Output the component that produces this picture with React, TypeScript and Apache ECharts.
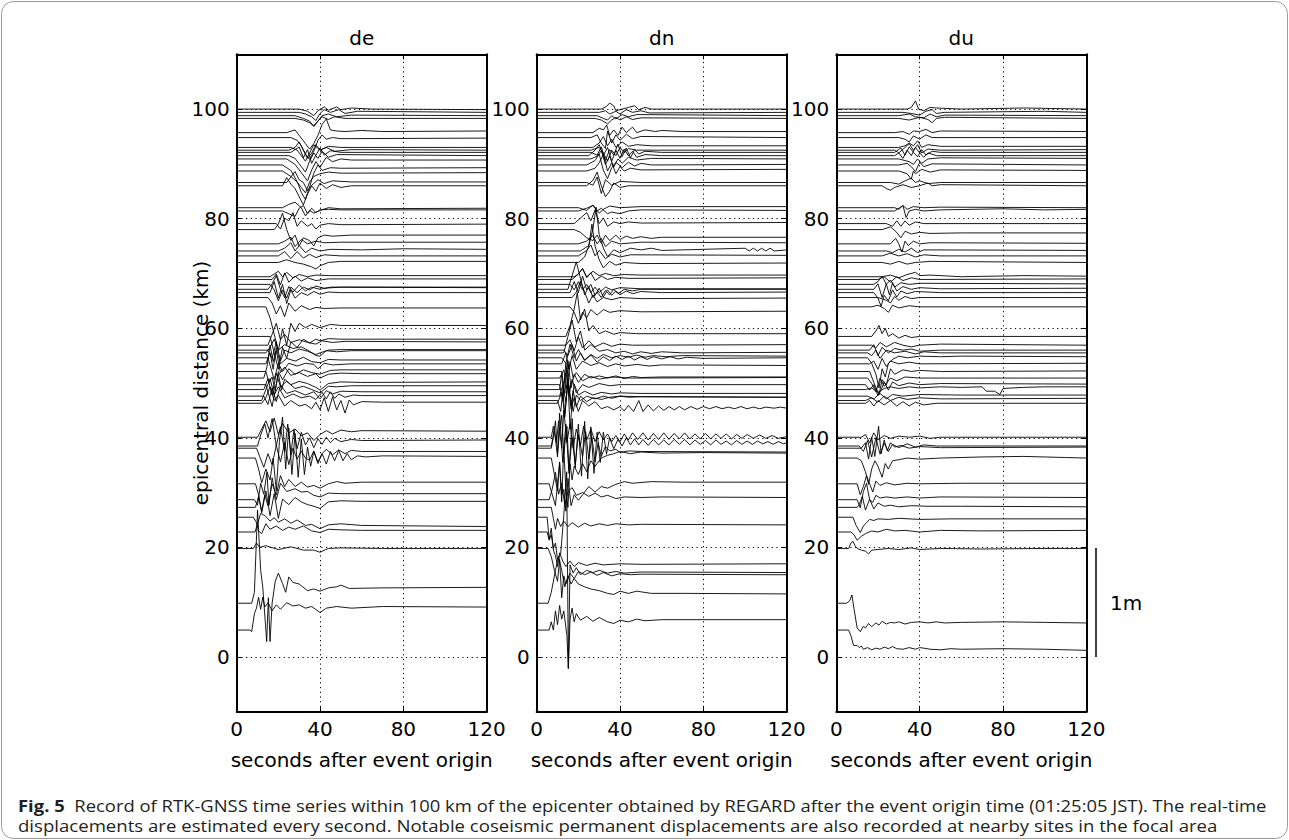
import React, { useEffect, useRef } from "react";
import * as echarts from "echarts";

const panelNames = ["de", "dn", "du"];
const xTicks = [0, 40, 80, 120];
const yTicks = [0, 20, 40, 60, 80, 100];
const gridLines = [0, 20, 40, 60, 80, 100];
const vGridLines = [40, 80];

// epicentral distance of every station (km)
const stations = [
  4.9, 9.8, 19.8, 22.8, 25.5, 27.3, 28.7, 31.6, 36.3, 38.1, 38.5, 40.1,
  46.3, 46.8, 47.6, 48.8, 49.7, 50.9, 52.1, 53.5, 54.6, 55.5, 56.0, 56.9, 58.5,
  63.9, 65.6, 66.5, 67.1, 68.0, 68.9, 69.4, 72.0, 73.2, 74.1, 75.4, 78.0, 79.1,
  81.4, 82.0, 86.0, 86.6, 88.7, 89.8, 90.9, 91.5, 92.1, 92.5, 93.0, 94.8, 95.7,
  98.3, 98.8, 99.4, 100.0,
];

// each trace: flat pairs [t (s), displacement in km-units (1 m = 20)]
const deTraces = [
  [0,0, 6.4,0, 7.2,-0.3, 8.5,3, 9.5,4, 10.5,6, 11.5,3.8, 12.5,6, 13.5,4.2, 15,5, 17,3.5, 19,4.6, 21,3.8, 24,5, 27,4.4, 30,4.6, 33,4, 36,4.3, 40,3.2, 43,4, 48,4.3, 55,4, 70,4.3, 120,4.2],
  [0,0, 7.2,0, 8.5,2, 10,17, 11.5,6, 12.5,3, 14.4,-7, 15.2,1, 16,-7, 17,0, 18.5,4, 20,5.5, 22,3.6, 23.5,2, 25,4.8, 27,3.8, 30,3.5, 34,2.3, 37,2.6, 40,2.2, 44,2.8, 48,3, 50,3.3, 54,2.7, 70,2.8, 120,2.9],
  [0,0, 8,0, 9.5,1, 11,0.2, 14,0.5, 20,-0.2, 26,0.3, 32,-0.3, 37,-0.3, 40,-0.7, 44,0, 50,0.1, 70,0, 120,0],
  [0,0, 8.8,0, 10,1.5, 11.5,3.4, 13.5,3.0, 16,2.0, 18,2.6, 20,1.8, 23,2.4, 26,1.6, 29,2.2, 33,1.2, 36,1.4, 40,0.6, 44,1.3, 50,1.5, 60,1.2, 120,1.0],
  [0,0, 8,0, 9.5,-1, 10.5,-2.5, 12,-3, 14,-1.2, 16,-2.2, 19,-1.6, 22,-2.4, 25,-1.8, 28,-2.2, 32,-1.6, 36,-2.5, 40,-2.8, 44,-2.2, 50,-2.3, 60,-2.4, 120,-2.4],
  [0,0, 9,0, 10.5,2, 12,-1, 14,3, 16,-1.5, 18,2.5, 20,-2, 22,1.5, 25,0.5, 28,1.8, 31,1, 34,0.5, 37,0.2, 40,-0.2, 44,1, 50,1.2, 60,1.1, 120,1.1],
  [0,0, 8.5,0, 10,-1, 11.5,3, 13,1, 14.5,5, 15.5,-1, 17,4, 19,0, 21,3, 24,1.5, 28,2, 31,1.4, 34,1.5, 37,0.8, 40,0.5, 44,1.2, 50,1.1, 60,1.1, 120,1.1],
  [0,0, 9,0, 10.5,-2, 12,-5, 13.5,-2, 15,-4, 17,0, 19,-2, 21,1.5, 23,-0.5, 25,0.8, 28,-0.5, 31,0.3, 34,-0.6, 37,-0.3, 40,-0.8, 44,0, 48,0.4, 52,0.1, 60,0.3, 120,0.3],
  [0,0, 9,0, 10.5,-2, 12,-4.5, 14,-2, 16,-4, 17.5,0, 19,-6, 20.5,3, 22,7.5, 23.5,-2, 25,5.5, 26.5,-3, 28,4.5, 29.5,-3.5, 31,3.5, 32.5,-3, 34,2, 35.5,-1.5, 37,1.2, 39,-1, 41,0.8, 43,-1.1, 45,1.2, 47,-0.5, 49,1.4, 51,-0.5, 53,0.8, 55,-0.3, 58,0.4, 62,0.2, 70,0.4, 120,0.3],
  [0,0, 9.5,0, 11,-1.5, 13,-3.5, 15,-1, 17,-3, 19,0.5, 21,-2.5, 23,1, 25,-3, 27,0, 29,-2, 31,-0.5, 33,-1.8, 35,-2.2, 37,-0.5, 39,-2.5, 41,-1, 43,-0.2, 46,-1.2, 49,-0.3, 52,-1, 55,-0.4, 60,-0.6, 120,-0.6],
  [0,0, 10,0, 11.5,2, 13.5,4, 15,1.5, 17,5, 19,0, 21,3.5, 23,-1, 24.5,4, 26,-1.5, 27.5,3, 29,-0.5, 31,2.5, 33,0.2, 35,1.5, 37,-0.3, 39,1.3, 41,0.3, 43,1.6, 45,0.6, 47,1.4, 50,0.8, 55,1.2, 60,1, 120,1.1],
  [0,0, 10,0, 12,1.5, 14,3, 16,1, 18,3.5, 20,0.5, 22,2.5, 25,0.8, 28,1.5, 31,0.3, 34,0.8, 37,-0.6, 40,0.5, 43,1.2, 46,0.6, 50,1.3, 55,1, 60,1.2, 120,1.1],
  [0,0, 12,0, 14,1, 16,3, 18,0.5, 20,1.5, 23,-0.5, 26,0.5, 30,-0.5, 33,-0.2, 36,-1, 38,0.2, 40,-1.2, 42,1, 44,-1.5, 46,1.2, 48,-1.2, 50,0.5, 52,-1.8, 54,0.6, 56,-0.3, 60,0.3, 70,0.2, 120,0.2],
  [0,0, 12,0, 14,2, 16,4, 18,1, 20,2.5, 23,0.5, 27,1.2, 31,0.5, 35,0.8, 38,0.2, 41,1.5, 43,0.3, 45,1.6, 47,0.4, 49,1.2, 52,0.6, 56,1, 60,0.9, 120,0.9],
  [0,0, 13,0, 15,-1.5, 17,1.5, 19,-1, 21,2, 24,0.5, 28,1, 33,0.2, 37,0.8, 40,-0.5, 43,1, 46,0.4, 50,0.9, 60,0.8, 120,0.8],
  [0,0, 13,0, 15,2, 17,-1, 19,3, 21,0.5, 24,1.5, 28,0.2, 32,0.6, 36,0, 40,-0.6, 44,0.6, 48,0.5, 55,0.7, 120,0.7],
  [0,0, 14,0, 15.5,-2, 17,-4, 18.5,-1, 20,2, 21.5,-1, 23,1, 26,0, 30,0.6, 34,0.2, 38,-0.5, 40,-1, 44,0.2, 50,0.5, 60,0.4, 120,0.5],
  [0,0, 13,0, 14.5,2, 16,6, 17.5,3, 19,5, 21,1, 23,2, 26,0.5, 30,1, 34,0.3, 38,0.8, 40,0, 44,0.7, 50,0.9, 60,0.8, 120,0.8],
  [0,0, 14,0, 15.5,-2, 17,-1, 18.5,-3.5, 20,0, 22,-1.5, 25,0.5, 28,-0.5, 32,0.3, 36,-0.2, 40,-0.5, 45,0.2, 50,0.3, 120,0.3],
  [0,0, 14,0, 16,2, 17.5,-1, 19,3, 21,0, 24,1, 28,0.5, 32,1.2, 36,0.4, 40,0.2, 44,0.8, 50,0.7, 120,0.7],
  [0,0, 15,0, 16.5,-2, 18,-4, 20,-1, 22,-2.5, 25,-1, 29,-1.5, 33,-1.0, 37,-1.2, 39,-2, 42,-1, 46,-1.3, 55,-1.1, 120,-1.1],
  [0,0, 14,0, 16,1, 18,2.5, 20,0.5, 23,1.5, 27,0.8, 31,1.1, 35,0.3, 38,-0.5, 40,-0.6, 43,0.4, 48,0.2, 55,0.4, 120,0.4],
  [0,0, 15,0, 17,-1.5, 19,1.5, 21,-2, 23,0, 26,-0.5, 30,0.2, 34,-0.2, 38,-0.8, 40,-0.5, 44,0, 50,0.1, 120,0.1],
  [0,0, 15,0, 17,2, 19,4, 21,1, 23,2, 26,0.5, 30,1, 34,0.5, 38,0.2, 41,0.8, 46,0.5, 52,0.7, 120,0.6],
  [0,0, 16,0, 18,-3, 20,-6, 22,-2, 24,-4, 26,-1, 29,-2, 32,-0.5, 35,-1.2, 38,-0.5, 40,-0.8, 44,-0.4, 50,-0.5, 120,-0.5],
  [0,0, 14,0, 16,-2, 18,-5, 20,-8, 22,-4, 24,-7, 26,-3, 28,-4.5, 30,-3, 33,-3.8, 36,-3.2, 40,-3.8, 45,-3.2, 50,-3.4, 120,-3.4],
  [0,0, 15,0, 17,-1, 19,-3, 21,-1.5, 23,-3.5, 25,-1, 28,-2.5, 31,-1.5, 35,-2.2, 38,-1.8, 42,-2, 50,-1.9, 120,-1.9],
  [0,0, 16,0, 18,2, 20,-1, 22,1.5, 24,-2, 26,0.5, 28,-1, 31,0, 34,-0.5, 37,0.2, 40,-0.3, 44,0.1, 50,0, 120,0],
  [0,0, 15,0, 17,1, 19,2.5, 21,0, 23,-1.5, 25,0.5, 27,-0.5, 30,0.8, 33,-0.3, 36,0.4, 40,0, 45,0.4, 120,0.3],
  [0,0, 16,0, 18,-1, 20,-3, 22,-1, 24,-2.5, 26,-0.5, 29,-1.5, 32,-0.5, 35,-1, 38,-0.3, 42,-0.7, 50,-0.5, 120,-0.5],
  [0,0, 17,0, 19,1, 21,-1, 23,1.2, 25,-0.5, 28,0.6, 31,-0.3, 34,0.3, 38,-0.2, 44,0.1, 120,0.1],
  [0,0, 16,0, 18,0.5, 20,1, 22,0, 24,0.8, 27,-0.2, 30,0.4, 34,0, 38,0.3, 45,0.2, 120,0.2],
  [0,0, 20,0, 24,0.5, 28,0, 32,-0.3, 36,-0.8, 38,-1.2, 40,-0.6, 44,0, 50,0.2, 120,0.2],
  [0,0, 20,0, 23,0.8, 26,-0.5, 29,0.8, 32,-0.4, 35,0.3, 38,-0.3, 42,0.2, 50,0, 120,0],
  [0,0, 20,0, 23,0.5, 26,1.5, 28,0, 30,1, 33,-0.3, 36,0.5, 40,0, 45,0.3, 60,0.2, 80,0.4, 120,0.3],
  [0,0, 20,0, 23,0.5, 26,1.2, 28,-0.5, 31,0.8, 34,0, 38,0.5, 42,0.2, 50,0.3, 120,0.3],
  [0,0, 18,0, 20,1, 22,3, 24,0, 26,-2, 28,-1, 30,-3, 32,-1.5, 35,-2, 37,-3, 39,-1.5, 42,-1, 46,-1.2, 55,-1, 120,-1],
  [0,0, 19,0, 21,-1, 23,1, 25,0.5, 27,2, 29,-0.5, 31,0.5, 34,-0.5, 36,0, 38,-1, 40,-0.3, 44,0, 50,-0.2, 120,-0.1],
  [0,0, 22,0, 25,-0.5, 28,-1, 30,0.5, 32,1, 34,-0.5, 36,0.5, 38,-0.3, 40,0.2, 44,0.3, 50,0.2, 120,0.2],
  [0,0, 22,0, 25,0.6, 28,1, 31,0, 33,-1.5, 35,-0.5, 37,-1, 40,-0.5, 44,0, 50,-0.2, 120,-0.1],
  [0,0, 22,0, 24,1.5, 26,0.3, 28,-0.5, 30,-2, 32,-3.5, 34,-1.5, 36,0, 38,-1, 40,0.5, 43,-0.5, 46,0.2, 50,-0.3, 55,0, 120,0],
  [0,0, 24,0, 26,1, 28,2, 30,0.5, 32,0, 34,-1.5, 36,-0.5, 39,0.5, 42,-0.2, 46,0.3, 55,0.1, 120,0.1],
  [0,0, 22,0, 26,-1, 29,-2, 31,-3, 33,-4, 35,-2, 37,-1, 40,-0.5, 44,-0.2, 50,-0.4, 120,-0.3],
  [0,0, 22,0, 26,-1, 29,-3, 31,-5, 33,-6.3, 35,-4, 37,-1.5, 39,0, 41,-1, 45,-0.5, 50,-0.6, 120,-0.5],
  [0,0, 24,0, 28,-1, 31,-2.5, 34,-4, 36,-2, 38,-0.5, 40,-1.5, 43,0.3, 46,-0.5, 50,0, 55,-0.2, 120,-0.2],
  [0,0, 25,0, 28,-0.5, 31,-2, 33,-3, 35,-1, 37,0.5, 39,-0.5, 41,0.8, 44,-0.3, 48,0.2, 120,0],
  [0,0, 26,0, 30,1, 32,-1, 34,0.5, 36,-2, 38,-0.5, 40,0.8, 42,-0.5, 45,0.3, 50,0, 120,0],
  [0,0, 25,0, 28,0.5, 30,1.5, 32,0, 34,-1.5, 36,-0.5, 38,1, 40,0, 43,0.5, 47,-0.2, 55,0.1, 120,0],
  [0,0, 26,0, 29,-0.5, 31,-1.5, 33,-2.5, 35,-1, 37,0.5, 40,-0.5, 44,0.2, 50,0, 120,0],
  [0,0, 26,0, 29,-0.5, 31,-1.5, 33,-3, 35,-4, 37,-2.5, 39,-0.5, 41,0.5, 43,-0.3, 46,0, 50,-0.2, 120,-0.1],
  [0,0, 24,0, 28,0.5, 30,-0.5, 33,-2, 35,-3, 37,-2, 39,-0.5, 41,1.5, 43,2.5, 45,0.5, 48,0.3, 52,0.2, 60,0.4, 70,0.2, 120,0.3],
  [0,0, 28,0, 32,-0.3, 35,-0.8, 37,-1.3, 39,-0.5, 41,0.3, 44,-0.2, 47,0.3, 52,0, 120,0],
  [0,0, 28,0, 32,-0.5, 35,-1, 37,-2, 39,-1, 41,0, 44,0.3, 48,-0.2, 55,0.1, 120,0],
  [0,0, 30,0, 33,-0.3, 36,-0.8, 38,-1.5, 40,-0.2, 42,0.5, 45,0, 49,0.5, 52,-0.2, 58,0.2, 120,0],
  [0,0, 30,0, 34,-0.4, 37,-1.2, 39,-0.3, 42,0.4, 44,-0.2, 48,0.4, 50,-0.1, 55,0.2, 65,0, 120,-0.1],
];

const dnTraces = [
  [0,0, 6,0, 7,1.5, 8,0, 9,3.5, 10,1, 11,4.5, 12,2, 13,3.5, 14.5,-1, 15.2,-7, 16,2, 17,4, 18,1.5, 19,3, 21,1.8, 24,2.5, 27,1.6, 30,2.3, 34,1.5, 37,1.2, 40,1.8, 44,1.5, 48,2, 52,1.7, 60,1.9, 120,1.9],
  [0,0, 5.5,0, 7,2, 9,6, 10.5,8.5, 12,6, 13.5,3, 15,5, 16.5,3.5, 18,4.5, 20,3.5, 23,3, 26,2.6, 30,2.3, 34,1.8, 37,1.6, 40,2.2, 44,1.8, 48,2.2, 55,1.8, 70,1.8, 120,1.7],
  [0,0, 5.5,0, 7,-1.5, 8.5,-4, 10,-6, 11,-2, 12,-9, 13,-5, 14,-6.5, 16,-4.5, 18,-5.5, 20,-4.2, 23,-4.8, 26,-4.3, 29,-4.9, 32,-4.4, 36,-5, 40,-4.6, 45,-4.8, 50,-4.7, 120,-4.8],
  [0,0, 5,0, 6,-1.5, 7,-0.5, 8,-3, 9,-2, 10,-5, 11.5,-4, 13,3, 14.4,11, 15.2,-24.9, 16,-6, 17.5,-7.5, 19,-6.5, 21,-7.8, 24,-7, 27,-7.4, 30,-7, 34,-7.5, 38,-7.2, 42,-7.5, 50,-7.3, 120,-7.4],
  [0,0, 5,0, 6,-4, 7,-2, 8,-6, 9,-7, 10,-9, 11,-6.5, 12.5,-8, 14,-9, 16,-8, 18,-9, 20,-8.3, 24,-8.8, 28,-8.4, 32,-8.7, 40,-8.5, 50,-8.6, 120,-8.5],
  [0,0, 7,0, 8,-2, 9,-4, 10,-2, 11.5,-3.5, 13,-2.5, 15,-3.5, 17,-2.8, 20,-3.6, 23,-2.9, 26,-3.4, 30,-3, 34,-3.3, 38,-3, 44,-3.2, 50,-3.1, 120,-3.2],
  [0,0, 6,0, 7.5,2, 9,5, 10.5,1, 12,3, 13.5,-1, 15,1.5, 17,2.2, 19,0.8, 22,1.3, 25,0.6, 28,1.2, 31,0.5, 34,0.8, 38,0.2, 42,0.5, 50,0.4, 60,0.5, 120,0.4],
  [0,0, 6,0, 7.5,-2, 9,-4, 10,0, 11,4, 12,-2, 13,-1, 14,-5, 15,1, 16.5,-4, 18,-2, 20,-3, 22,-2, 25,-0.5, 28,-1.5, 31,-0.5, 34,-0.8, 38,-0.1, 42,0.4, 46,0.1, 55,0.4, 70,0.3, 120,0.3],
  [0,0, 7,0, 8.5,-3, 10,-6, 11,-1, 12,-8, 13,2, 14,-6, 15,-9, 16,-1, 17,-4, 18,-1.5, 20,-3, 22,-1, 24,-2.5, 26,-0.5, 28,-1.5, 31,0, 34,0.5, 37,0.8, 40,1.2, 45,0.8, 50,1.1, 60,0.9, 80,1, 120,0.9],
  [0,0, 7,0, 8,2, 9,5, 10,-1, 11,3, 12,6, 13,-1, 14.5,4, 15.5,-4, 17,2, 18.5,-3, 20,2.5, 22,-1.5, 23.5,3, 25,-2, 26.5,2, 28,-2.5, 29.5,1, 31,-1.5, 33,0.3, 35,-0.5, 38,-0.2, 40,-0.8, 44,-0.5, 50,-0.6, 120,-0.7],
  [0,0, 7,0, 8.5,3, 10,-2, 11,6, 12.5,-3, 14,4, 15.5,-5, 17,5, 18.5,-4, 20,4, 21.5,-5.5, 23,4.5, 24.5,-6, 26,3.5, 27.5,-5, 29,2.5, 30.5,-3, 32,2.5, 33.5,-1.5, 35,1.5, 37,-0.5, 39,1.2, 41,0, 43,1.5, 45,0.2, 47,1.3, 49,0.2, 51,1.2, 53.5,0.1, 56,1.2, 58.5,0.2, 61,1.1, 63.5,0.2, 66,1.2, 68.5,0.3, 71,1.2, 73.5,0.2, 76,1.1, 78.5,0.3, 81,1.0, 83.5,0.2, 86,1.1, 88.5,0.3, 91,0.9, 93.5,0.2, 96,1.0, 98.5,0.3, 101,0.9, 103.5,0.3, 106,0.9, 108.5,0.4, 111,0.8, 113.5,0.3, 116,0.8, 118.5,0.4, 120,0.6],
  [0,0, 7,0, 8,2, 9.5,-1, 10.5,3, 12,-2, 13,5, 14.5,-1, 16,2.5, 17.5,-2, 19,1.5, 21,-1.5, 22.5,2, 24,-0.5, 26,1.5, 28,-0.8, 30,1, 32,-0.5, 34,0.6, 36,-0.8, 38,0.3, 40,-0.8, 42,0.6, 44,-0.5, 46,0.8, 48.5,-0.4, 51,0.8, 53.5,-0.5, 56,0.7, 58.5,-0.4, 61,0.8, 63.5,-0.4, 66,0.7, 68.5,-0.3, 71,0.8, 73.5,-0.3, 76,0.6, 78.5,-0.3, 81,0.7, 83.5,-0.3, 86,0.6, 88.5,-0.2, 91,0.6, 93.5,-0.3, 96,0.5, 98.5,-0.2, 101,0.5, 104,-0.2, 107,0.4, 110,-0.2, 113,0.3, 116,-0.2, 120,0.1],
  [0,0, 10,0, 12,2, 13.5,-2, 15,4, 16.5,-1, 18,1, 20,-1.5, 22,0.5, 25,-0.5, 28,0.3, 31,-1, 34,-0.6, 37,-1.2, 40,-0.6, 42,-1.4, 44,-0.4, 46.5,-1.5, 49,0.5, 51,-1.5, 53.5,-0.3, 56,-1.4, 58.5,-0.5, 61,-1.3, 63.5,-0.6, 66,-1.2, 68.5,-0.6, 71,-1.2, 74,-0.6, 77,-1.1, 80,-0.6, 83,-1.0, 86,-0.6, 89,-1.0, 92,-0.7, 95,-1.0, 98,-0.6, 101,-1.0, 104,-0.7, 107,-1.0, 110,-0.7, 114,-0.9, 117,-0.7, 120,-0.9],
  [0,0, 10,0, 11.5,-2, 13,3, 14.5,6, 16,1, 17.5,-2, 19,1, 21,0, 24,0.8, 28,0.3, 32,0.8, 36,0.4, 40,0.8, 44,0.6, 50,0.7, 120,0.6],
  [0,0, 11,0, 12.5,2, 14,-1, 15,3, 16,-6, 17.5,1, 19,-2, 21,0, 24,-1, 27,-0.3, 31,-0.6, 35,-0.2, 40,0, 50,-0.1, 120,-0.2],
  [0,0, 11,0, 12,3, 13.5,-5, 15,2, 16.5,-3, 18,1, 20,-1, 23,-0.3, 27,-1, 31,-0.5, 36,-0.8, 40,-0.6, 50,-0.7, 120,-0.7],
  [0,0, 11,0, 12.5,-3, 14,4, 15.5,-2, 17,1, 19,-1.5, 22,0, 25,-0.5, 30,0.2, 35,-0.2, 40,0, 120,0],
  [0,0, 11,0, 13,1.5, 14.5,-2, 16,3, 17.5,0, 19,1, 22,-0.5, 26,0.3, 30,-0.2, 36,0.2, 45,0, 120,0.1],
  [0,0, 12,0, 13.5,-4, 15,2, 16.5,-3, 18,-0.5, 20,-2, 23,-0.5, 26,-1.2, 30,-0.8, 34,-1.2, 38,-0.8, 42,-1.3, 46,-0.9, 50,-1.1, 60,-1, 120,-1],
  [0,0, 12,0, 14,2, 15.5,-1, 17,1.5, 19,-1, 22,0.5, 26,-0.3, 30,0.2, 34,-0.5, 38,0, 42,-0.4, 48,-0.1, 54,-0.4, 60,-0.2, 120,-0.3],
  [0,0, 12,0, 14,-1, 16,2.5, 18,0, 20,1.5, 23,-0.5, 26,0.5, 29,-0.8, 32,0.2, 35,-0.5, 38,0.3, 41,-0.3, 44,0.3, 47,-0.4, 50,0.2, 53,-0.3, 56,0.2, 60,-0.2, 64,0.2, 68,-0.2, 72,0.1, 80,-0.1, 120,0],
  [0,0, 13,0, 15,3, 17,6, 19,2, 21,4, 23,0.5, 26,1.5, 30,0.3, 34,0.6, 38,0, 42,0.3, 46,-0.2, 50,0.2, 55,-0.1, 60,0.2, 70,0, 120,0.1],
  [0,0, 13,0, 15,-1, 17,1, 19,-2, 21,-0.5, 23,-1.8, 26,-0.8, 29,-1.5, 32,-0.8, 36,-1.4, 40,-1, 44,-1.3, 48,-0.9, 52,-1.3, 56,-1, 62,-1.2, 70,-1, 120,-1.1],
  [0,0, 14,0, 16,1, 18,-1, 20,1.5, 22,-0.5, 25,0.8, 28,-0.3, 32,0.4, 36,-0.2, 40,0.2, 46,0, 120,0.1],
  [0,0, 14,0, 16,2, 18,5, 19.5,8, 21,3, 23,5, 25,1, 27,2, 30,0.5, 33,1, 37,0.4, 40,0.7, 48,0.5, 120,0.5],
  [0,0, 16,0, 18,-1, 20,-3, 22,-1, 24,-2, 26,-0.5, 29,-1.5, 32,-0.5, 35,-1, 40,-0.7, 50,-0.9, 120,-0.8],
  [0,0, 17,0, 19,1, 21,3, 23,1, 25,-1, 27,0.5, 29,-0.8, 32,0, 36,-0.4, 40,0, 50,-0.2, 120,-0.1],
  [0,0, 16,0, 18,2, 20,0, 22,3, 24,0.5, 26,1.5, 28,-0.5, 30,0.8, 32,-0.8, 34,0.5, 36,-0.5, 38,0.3, 40,-0.4, 43,0.3, 46,-0.2, 50,0.2, 60,0, 120,0.1],
  [0,0, 15,0, 17,2.5, 19,5, 21,2, 23,-1, 25,0.5, 27,-1.5, 29,-0.5, 31,-1.5, 33,-0.2, 35,-1, 37,0, 39,-0.8, 42,0, 46,-0.3, 50,0, 120,0],
  [0,0, 16,0, 18,-1, 20,0.5, 22,-1, 24,0, 26,-1.5, 28,-0.5, 30,-1.5, 33,-0.5, 36,-1, 40,-0.6, 50,-0.8, 120,-0.8],
  [0,0, 17,0, 20,1, 22,2, 24,0.3, 26,1.2, 28,-0.2, 31,0.6, 34,0, 38,0.4, 44,0.2, 120,0.3],
  [0,0, 18,0, 20,0.5, 22,1.5, 24,0, 27,1, 30,0.2, 33,0.6, 37,0.2, 42,0.4, 50,0.3, 120,0.3],
  [0,0, 20,0, 23,1, 25,3, 26.5,7, 28,3, 30,0.5, 32,-1, 35,0.2, 38,-0.5, 42,0, 50,-0.2, 120,-0.1],
  [0,0, 20,0, 24,1, 26,2, 28,0, 30,1, 33,-0.5, 36,0.3, 40,-0.2, 45,0.2, 120,0.1],
  [0,0, 21,0, 25,1, 27,4, 28.5,8, 30,3, 32,0.5, 34,-1, 37,0.2, 40,-0.3, 45,0.5, 50,0.2, 55,0.5, 60,0.1, 100,0.5, 102,0, 104,0.5, 106,0, 108,0.5, 110,0, 112,0.5, 114,0, 120,0.2],
  [0,0, 20,0, 24,0.5, 27,1.5, 29,0, 31,1, 33,-0.5, 36,0.5, 40,0, 50,0.3, 120,0.2],
  [0,0, 18,0, 21,-0.5, 24,-1.5, 27,-2, 29,-1, 31,-2.5, 33,-1, 35,-2, 38,-1, 40,-1.8, 43,-1.2, 46,-1.6, 50,-1.3, 55,-1.6, 60,-1.4, 120,-1.4],
  [0,0, 18,0, 21,1, 24,2, 26,0.5, 28,2.5, 30,0, 32,1, 34,-0.5, 37,0.3, 40,0, 44,0.3, 50,0.1, 120,0.2],
  [0,0, 20,0, 24,0.5, 27,1, 29,0, 31,0.5, 34,-0.5, 36,-0.2, 40,-0.5, 44,0, 50,0.2, 120,0.1],
  [0,0, 20,0, 24,-0.5, 27,0.5, 30,-1, 32,-0.3, 35,0.3, 40,0, 50,0.2, 120,0.2],
  [0,0, 24,0, 27,1, 29,2.5, 31,0, 33,-2, 35,-1, 37,0.5, 40,-0.3, 44,0, 120,0],
  [0,0, 24,0, 27,-0.5, 29,1, 31,-2, 33,0.5, 36,-0.5, 40,0.2, 50,0, 120,0],
  [0,0, 24,0, 28,0.5, 30,1.5, 32,3, 34,0, 36,1.5, 38,-0.5, 40,0.8, 42,0, 45,0.5, 50,0.2, 120,0.3],
  [0,0, 24,0, 28,0.8, 30,2, 32,-1, 34,-2.5, 36,-0.5, 38,0.5, 41,-0.5, 44,0.5, 47,-0.2, 50,0.3, 55,0, 120,0.1],
  [0,0, 26,0, 29,0.5, 31,1.5, 33,-1, 35,0.5, 37,-1.5, 39,0, 41,-0.8, 44,0.3, 48,-0.2, 55,0.1, 120,0],
  [0,0, 25,0, 28,1, 30,2, 32,0, 34,1.5, 36,-1, 38,1, 40,-0.5, 42,1.2, 44,0, 46,0.8, 48,-0.3, 52,0.2, 60,0, 120,0],
  [0,0, 26,0, 29,-0.5, 31,1, 33,-1.5, 35,0.5, 37,-0.5, 39,1.5, 41,-0.8, 43,0.8, 45,-1, 47,0.5, 49,-0.3, 52,0.2, 60,0, 120,0],
  [0,0, 26,0, 30,0.5, 32,-0.5, 34,-2, 36,0, 38,-1, 40,0.5, 42,-0.5, 44,0.3, 48,0, 120,0],
  [0,0, 27,0, 30,0.8, 32,2, 34,0.3, 36,1.5, 38,0, 41,1, 44,0.2, 48,0.5, 55,0.3, 120,0.3],
  [0,0, 26,0, 29,0.5, 31,-1, 33,-2, 34,1.2, 36,-1, 38,0.5, 40,-0.5, 43,0.6, 46,-0.2, 50,0.2, 120,0],
  [0,0, 27,0, 30,0.8, 32,0.5, 33.6,1.4, 35,-0.5, 37,0.5, 39,-0.5, 41,1, 43,0, 46,1, 48,0, 52,0.5, 57,0.2, 60,0.4, 70,0.2, 120,0.2],
  [0,0, 28,0, 31,-0.3, 34,-1, 36,-0.3, 38,0.2, 40,-0.3, 43,0.3, 46,-0.2, 50,0.1, 120,0],
  [0,0, 29,0, 32,-0.5, 34,-0.8, 36,0, 38,-0.6, 41,0.2, 44,-0.2, 48,0.2, 120,0],
  [0,0, 30,0, 33,0.3, 35,-0.3, 38,0.2, 40,-0.3, 43,0.5, 46,0, 50,0.3, 54,-0.1, 120,0],
  [0,0, 31,0, 33.6,0.5, 35,1.1, 37,0.6, 38,-0.3, 41,0, 44,0.3, 47,0.6, 49,-0.1, 52,0.3, 55,0, 120,0],
];

const duTraces = [
  [0,0, 5.9,0, 7,-1, 8.3,-2.8, 10,-2.8, 11,-3.2, 12,-2.9, 13,-3.5, 15,-3.2, 17,-3.6, 19,-3.3, 21,-3.5, 23,-3.1, 25,-3.4, 27,-3.0, 29,-3.4, 32,-3.5, 35,-3.2, 38,-3.5, 40,-3.2, 42,-3.3, 45,-3.5, 50,-3.6, 55,-3.4, 60,-3.5, 80,-3.4, 100,-3.5, 120,-3.7],
  [0,0, 5,0, 6.5,0.5, 7.5,1.5, 8.5,-1, 10,-4.5, 11.5,-5.2, 13,-4.2, 14,-4.5, 15.5,-3.7, 17,-4.3, 19,-3.6, 20.5,-4, 22,-3.3, 24,-3.8, 26,-3.5, 28,-3.6, 30,-3.4, 33,-3.8, 36,-3.5, 40,-3.4, 44,-3.6, 48,-3.4, 52,-3.6, 60,-3.5, 80,-3.4, 100,-3.5, 120,-3.6],
  [0,0, 6,0, 7,1, 8,1.3, 9,0.5, 10,0, 12,-0.3, 14,-0.5, 15.5,-1, 17,-0.3, 20,-0.2, 25,0, 30,-0.2, 36,0.1, 40,-0.2, 50,0, 70,-0.1, 100,0, 120,0],
  [0,0, 7,0, 8.5,-0.5, 10,-1.5, 12,-0.8, 14,-0.3, 17,0.2, 20,0, 24,0.5, 28,0.2, 33,0.3, 40,0, 50,0.3, 70,0.2, 120,0.3],
  [0,0, 8,0, 9.5,-1.5, 11.5,-2.8, 13,-1.6, 14.5,-1, 16,-0.4, 18,-0.6, 20,-0.3, 25,-0.4, 30,-0.2, 40,-0.4, 55,-0.3, 120,-0.3],
  [0,0, 10,0, 11,0.5, 12.5,2, 14,-0.5, 16,1.5, 18,-0.3, 20,0.8, 23,0.2, 26,0.4, 30,0.1, 36,0.3, 44,0.2, 60,0.2, 120,0.1],
  [0,0, 10,0, 11.5,-1.5, 13,1.5, 14.5,3, 16,0, 17.5,-0.5, 19,0.8, 21,0.3, 24,0.5, 28,0.3, 34,0.5, 40,0.3, 50,0.5, 120,0.4],
  [0,0, 10,0, 11.5,-2, 13,-0.5, 14.5,1.5, 16,0, 17.5,-1.5, 19,0.5, 21,-0.3, 24,0.2, 28,-0.2, 34,0.1, 40,0, 60,0.1, 120,0.1],
  [0,0, 10,0, 12,-0.5, 14,-2.5, 15.5,-4.8, 17,-2, 18.5,-0.5, 20,-1.5, 22,-3.5, 23.5,-1, 25,-2, 27,-0.5, 30,-0.3, 34,0, 40,-0.2, 50,0, 70,0.2, 90,0.3, 110,0.1, 120,0],
  [0,0, 12,0, 14,1, 15.5,-2, 17,2, 18.5,-1.5, 20.3,4, 21.5,-1, 23,1.5, 24.5,-0.5, 26,1, 28,0.2, 31,0.5, 35,0, 40,0.3, 50,0.1, 120,0.2],
  [0,0, 11,0, 13,-1, 15,1, 17,-2, 19,1.5, 21,-1.5, 23,0.5, 25,-1, 27,0.3, 30,-0.3, 34,0.4, 38,-0.2, 42,0.2, 48,0, 120,0],
  [0,0, 12,0, 14,0.5, 16,-1, 18,0.8, 20,-0.5, 23,0.3, 26,-0.2, 30,0.2, 35,0, 40,0.2, 45,-0.2, 50,0, 120,0],
  [0,0, 14,0, 16,0.5, 18,-0.5, 20,0.5, 23,-0.3, 26,0.5, 29,-0.5, 32,0.3, 35,-0.5, 38,0.2, 42,-0.3, 48,0, 120,0],
  [0,0, 14,0, 17,0.5, 20,-0.3, 23,0.8, 26,0, 30,0.6, 34,0.2, 40,0.5, 50,0.3, 120,0.4],
  [0,0, 15,0, 18,-0.5, 21,0.5, 24,-0.5, 27,0.3, 32,0, 40,0.3, 60,0.2, 120,0.2],
  [0,0, 14,0, 17,0.3, 20,-0.5, 23,0.2, 26,0.5, 30,0.2, 35,0.5, 40,0.3, 50,0.5, 60,0.4, 70,0.5, 72,-0.3, 76,-0.3, 78.5,-0.9, 80,0.2, 90,0.4, 100,0.5, 120,0.5],
  [0,0, 14,0, 16,-1, 18,0, 20,-2, 21.5,-1, 23,0.5, 25,-1, 27,0.5, 30,-0.2, 35,0.3, 40,0, 50,0.2, 120,0.1],
  [0,0, 15,0, 17,-1, 19,-2.5, 21,0, 23,-1.5, 26,0, 29,-0.5, 33,0.2, 40,0, 120,0],
  [0,0, 16,0, 18,-2, 20.5,-4.2, 22,-1.5, 24,-2.5, 26,0.5, 28,-0.5, 32,0.3, 36,0, 40,0.2, 50,0, 120,0.1],
  [0,0, 16,0, 18,0.5, 20,-1, 22,1, 24,-0.5, 26,0.5, 30,0, 35,0.3, 40,0, 120,0.1],
  [0,0, 15,0, 17,-1, 19,-3, 20.5,-5.5, 22,-2, 23.5,-3.5, 25,-1, 27,-0.3, 30,0.3, 34,0, 40,0.3, 50,0.2, 60,0.3, 120,0.2],
  [0,0, 15,0, 17,-0.5, 19,0.5, 21,-1, 24,0.5, 28,0, 33,0.3, 38,-0.2, 42,0.2, 50,0, 120,0],
  [0,0, 16,0, 18,1, 20,-1, 22,0.5, 25,-0.5, 28,0.3, 32,0, 36,0.2, 40,-0.2, 50,0, 120,0],
  [0,0, 17,0, 19,-0.5, 21,0.5, 24,-0.3, 28,0.5, 32,0, 36,-0.3, 40,0, 50,0.2, 120,0],
  [0,0, 17,0, 19,1, 20.5,2, 22,0.5, 23.5,1.5, 25,0, 27,0.5, 30,-0.3, 33,0.2, 36,-0.2, 40,0, 120,0],
  [0,0, 17,0, 20,0.3, 23,-0.3, 25,-1, 27,0.3, 30,-0.2, 35,0.2, 40,0, 120,0],
  [0,0, 20,0, 24,-0.5, 26,-1, 28,0.2, 30,-0.5, 33,0.2, 36,-0.2, 40,0, 120,0],
  [0,0, 18,0, 20,-1, 21.5,-2.5, 23,-0.5, 25,-1.5, 27,0.5, 29,-0.8, 31,0.3, 34,-0.2, 38,0.2, 50,0, 120,0],
  [0,0, 18,0, 20,1, 22,-1.5, 24,1, 25.5,-1, 27,1.2, 29,-0.3, 32,0.5, 36,0, 40,0.3, 50,0.1, 120,0.2],
  [0,0, 18,0, 20,0.5, 22,1.5, 24,0, 26,0.8, 28,-0.5, 31,0.3, 35,0, 40,0.2, 120,0.1],
  [0,0, 20,0, 23,0.5, 26,-0.5, 29,0.5, 32,-0.2, 36,0.3, 40,0, 120,0.1],
  [0,0, 22,0, 26,0.3, 30,-0.2, 34,0.4, 38,0.8, 40,0.2, 45,0.3, 60,0, 90,0.2, 120,0.1],
  [0,0, 22,0, 26,-0.3, 30,0.2, 34,-0.3, 38,0, 45,0.2, 120,0],
  [0,0, 22,0, 26,0.5, 30,0, 34,0.4, 38,-0.2, 42,0.2, 50,0, 120,0],
  [0,0, 24,0, 27,-0.3, 30,0.3, 33,-0.2, 36,0.5, 39,-0.3, 42,0.2, 120,0.1],
  [0,0, 26,0, 28.5,1, 30,0, 31.5,-1.5, 33,0.5, 34.5,-0.3, 37,0.5, 40,0, 45,0.2, 120,0.1],
  [0,0, 22,0, 26,0.5, 29,-0.5, 31,-1.5, 33,-0.3, 36,-0.8, 40,-0.5, 45,-0.7, 60,-0.6, 120,-0.6],
  [0,0, 24,0, 27,-0.5, 29,0.5, 31,-0.5, 33,0.5, 35,-0.3, 38,0.3, 42,0, 120,0],
  [0,0, 28,0, 30,0.5, 32,1, 33.5,-1.2, 35,0, 38,0.3, 42,0, 50,0.2, 80,0.4, 100,0.2, 120,0.3],
  [0,0, 28,0, 30,-0.3, 32,0.4, 34,-0.3, 37,0.2, 42,0, 50,0.1, 120,0],
  [0,0, 22,0, 24,-0.5, 26,-0.8, 28,-0.3, 32,0.2, 36,-0.3, 40,0, 44,0.5, 46,0, 50,0.2, 120,0],
  [0,0, 26,0, 30,-0.3, 33,0.3, 36,0.8, 38,0, 40,0.3, 44,-0.2, 50,0, 120,0],
  [0,0, 30,0, 34,-0.5, 36,-1.5, 37,0, 38,-0.5, 41,0.3, 45,-0.2, 50,0.2, 120,0.1],
  [0,0, 30,0, 34,0.3, 36,-0.3, 38,-1.2, 40,0.5, 42,-0.3, 46,0.2, 120,0],
  [0,0, 30,0, 33,-0.3, 35,-0.5, 37,-1, 39,0, 41,-0.8, 44,0, 50,0.2, 120,0.1],
  [0,0, 28,0, 30,0.5, 32,-0.5, 34,1, 36,0, 38,1.5, 40,0.5, 42,-0.3, 44,0.5, 48,0, 120,0],
  [0,0, 28,0, 31,0.8, 33,-0.5, 35,1, 37,0, 39,-0.8, 41,0.5, 43,-0.5, 46,0.2, 50,0, 120,0],
  [0,0, 28,0, 30,-0.5, 33,0.5, 35,1.2, 37,0, 39,1, 41,-0.5, 44,0.2, 50,0, 120,0.1],
  [0,0, 30,0, 33,0.3, 35,0.8, 37,0.3, 39,1.2, 41,0, 44,0.5, 50,0.2, 120,0.2],
  [0,0, 30,0, 33,-0.3, 35,-0.8, 37,0.3, 40,-0.3, 43,0.5, 46,0, 120,0],
  [0,0, 28,0, 32,0.2, 35,-0.3, 37,0.3, 40,0.2, 43,0.6, 46,0, 50,0.3, 120,0.2],
  [0,0, 30,0, 35,-0.3, 40,0.2, 44,-0.2, 46,-0.8, 48,0, 52,0.2, 120,0],
  [0,0, 30,0, 35,0.3, 38,-0.2, 42,-0.4, 45,0.3, 48,-0.2, 52,0.1, 120,0],
  [0,0, 32,0, 36,-0.2, 40,-0.5, 43,0.2, 46,0.5, 48,-0.2, 52,0, 100,0.2, 120,0],
  [0,0, 34,0, 36,0.3, 38,1.5, 39.5,0, 42,-0.3, 45,0.3, 48,0.2, 60,0, 90,0.2, 120,0],
];

const captionLine1 = "Record of RTK-GNSS time series within 100 km of the epicenter obtained by REGARD after the event origin time (01:25:05 JST). The real-time";
const captionLine2 = "displacements are estimated every second. Notable coseismic permanent displacements are also recorded at nearby sites in the focal area";

const FONT = "DejaVu Sans";
const CAP_FONT = "Open Sans";
const gridLeft = [236.7, 536.7, 836.3];
const gridTop = 54.3;
const gridW = 250;
const gridH = 657.4;

function toPoints(dist: number, flat: number[]) {
  const pts: number[][] = [];
  for (let k = 0; k < flat.length; k += 2) pts.push([flat[k], dist + flat[k + 1]]);
  return pts;
}

export default function App() {
  const ref = useRef<HTMLDivElement>(null);
  useEffect(() => {
    if (!ref.current) return;
    const chart = echarts.init(ref.current, undefined, { renderer: "svg" });
    const allTraces = [deTraces, dnTraces, duTraces];
    const grids: any[] = [];
    const xAxes: any[] = [];
    const yAxes: any[] = [];
    const series: any[] = [];
    const graphics: any[] = [];
    panelNames.forEach((name, p) => {
      grids.push({ left: gridLeft[p], top: gridTop, width: gridW, height: gridH, show: false });
      const axLine = { show: true, onZero: false, lineStyle: { color: "#000", width: 2 } };
      const tick = { show: true, inside: true, length: 5, lineStyle: { color: "#000", width: 1 } };
      xAxes.push({
        gridIndex: p, type: "value", min: 0, max: 120, interval: 40, position: "bottom",
        axisLine: axLine, axisTick: tick,
        axisLabel: { show: true, fontSize: 20, fontFamily: FONT, color: "#000", margin: 7, customValues: xTicks },
        splitLine: { show: false },
      });
      xAxes.push({
        gridIndex: p, type: "value", min: 0, max: 120, interval: 40, position: "top",
        axisLine: axLine, axisTick: tick, axisLabel: { show: false }, splitLine: { show: false },
      });
      yAxes.push({
        gridIndex: p, type: "value", min: -10, max: 110, position: "left",
        axisLine: axLine,
        axisTick: { ...tick, customValues: yTicks },
        axisLabel: { show: true, fontSize: 20, fontFamily: FONT, color: "#000", margin: 7, customValues: yTicks },
        splitLine: { show: false },
      });
      yAxes.push({
        gridIndex: p, type: "value", min: -10, max: 110, position: "right",
        axisLine: axLine, axisTick: { ...tick, customValues: yTicks },
        axisLabel: { show: false }, splitLine: { show: false },
      });
      const traces = allTraces[p];
      stations.forEach((d, i) => {
        const s: any = {
          type: "line",
          xAxisIndex: p * 2,
          yAxisIndex: p * 2,
          data: toPoints(d, traces[i]),
          showSymbol: false,
          symbol: "none",
          silent: true,
          lineStyle: { color: "#000", width: 0.9 },
        };
        if (i === 0) {
          s.markLine = {
            silent: true,
            symbol: "none",
            label: { show: false },
            lineStyle: { color: "#000", width: 1, type: [1.2, 3.5] },
            data: [
              ...gridLines.map((v) => ({ yAxis: v })),
              ...vGridLines.map((v) => ({ xAxis: v })),
            ],
          };
        }
        series.push(s);
      });
      graphics.push({
        type: "text",
        x: gridLeft[p] + gridW / 2,
        y: 38,
        style: { text: name, fontSize: 20, fontFamily: FONT, fill: "#000", align: "center", verticalAlign: "middle" },
      });
      graphics.push({
        type: "text",
        x: gridLeft[p] + gridW / 2,
        y: 760,
        style: { text: "seconds after event origin", fontSize: 20, fontFamily: FONT, fill: "#000", align: "center", verticalAlign: "middle" },
      });
    });
    graphics.push({
      type: "text",
      x: 201,
      y: 383,
      rotation: Math.PI / 2,
      style: { text: "epicentral distance (km)", fontSize: 20, fontFamily: FONT, fill: "#000", align: "center", verticalAlign: "middle" },
    });
    graphics.push({
      type: "line",
      shape: { x1: 1096, y1: 548, x2: 1096, y2: 657 },
      style: { stroke: "#000", lineWidth: 1.5 },
    });
    graphics.push({
      type: "text",
      x: 1110,
      y: 603,
      style: { text: "1m", fontSize: 20, fontFamily: FONT, fill: "#000", align: "left", verticalAlign: "middle" },
    });
    graphics.push({
      type: "rect",
      shape: { x: 1.5, y: 1.5, width: 1286, height: 837, r: 12 },
      style: { fill: "none", stroke: "#9a9a9a", lineWidth: 1 },
    });
    graphics.push({
      type: "text",
      x: 18,
      y: 806,
      scaleX: 1.19,
      style: {
        text: "{b|Fig. 5}  " + captionLine1,
        fontSize: 15.5, fontFamily: CAP_FONT, fill: "#231f20", verticalAlign: "middle",
        rich: { b: { fontWeight: "bold", fontSize: 15.5, fontFamily: CAP_FONT, fill: "#231f20" } },
      },
    });
    graphics.push({
      type: "text",
      x: 18,
      y: 826,
      scaleX: 1.2,
      style: { text: captionLine2, fontSize: 15.5, fontFamily: CAP_FONT, fill: "#231f20", verticalAlign: "middle" },
    });
    chart.setOption({
      animation: false,
      backgroundColor: "#fff",
      grid: grids,
      xAxis: xAxes,
      yAxis: yAxes,
      series,
      graphic: graphics,
    });
    return () => chart.dispose();
  }, []);
  return <div ref={ref} style={{ position: "fixed", left: 0, top: 0, width: 1289, height: 840 }} />;
}
